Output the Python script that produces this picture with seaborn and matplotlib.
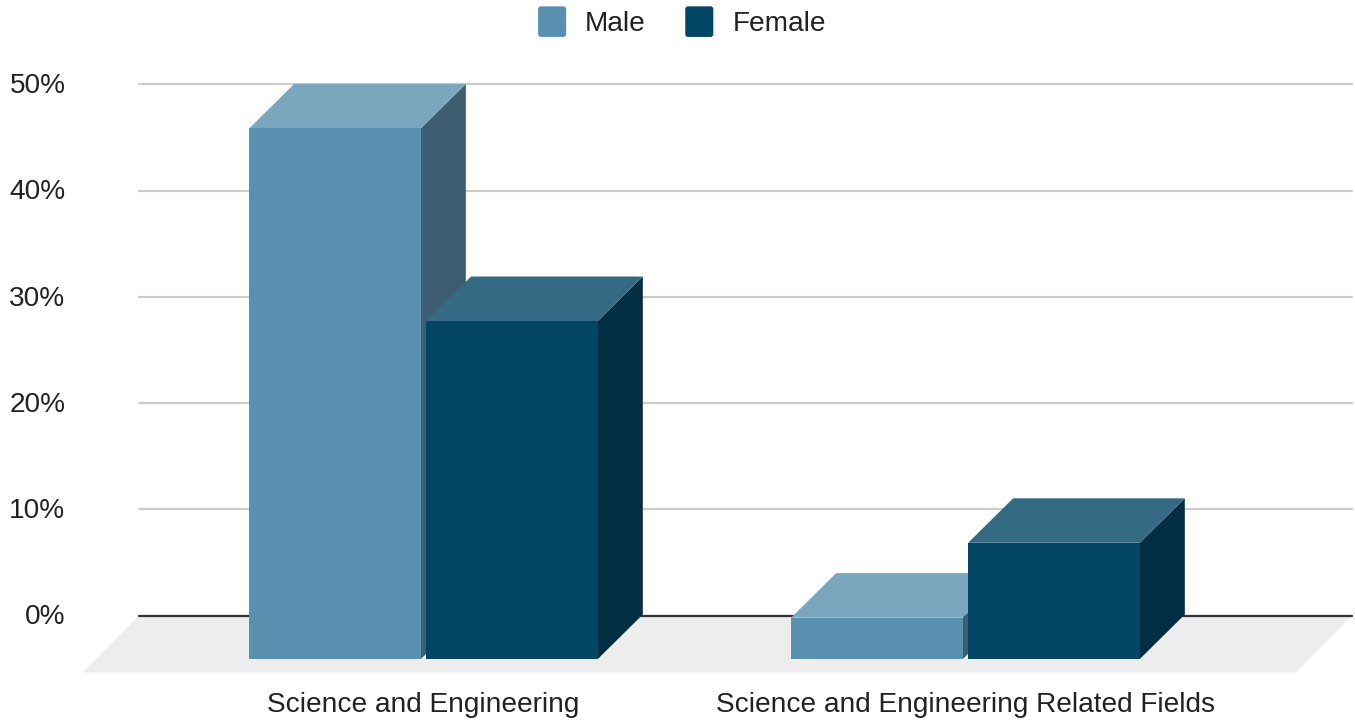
import matplotlib
matplotlib.use("Agg")
import matplotlib.pyplot as plt
import matplotlib.patches as mpatches
from matplotlib.legend_handler import HandlerPatch
from matplotlib.transforms import Affine2D
import pandas as pd
import seaborn as sns

# ---- data ----
categories = ["Science and Engineering", "Science and Engineering Related Fields"]
male_values = [50.0, 3.9]
female_values = [31.85, 10.95]
series_names = ["Male", "Female"]
y_ticks = [0, 10, 20, 30, 40, 50]
y_tick_labels = ["0%", "10%", "20%", "30%", "40%", "50%"]

# ---- style ----
FRONT = {"Male": "#5990AF", "Female": "#024564"}
TOP = {"Male": "#7AA7BE", "Female": "#346A83"}
SIDE = {"Male": "#3C5E70", "Female": "#012E42"}
W, H = 1355, 723
DX, DY = 45, 44.5  # bar depth in pixels
TEXT = "#222222"
FS = 20.2

sns.set_theme(style="white")
plt.rcParams["font.family"] = ["Liberation Sans", "DejaVu Sans"]

fig = plt.figure(figsize=(W / 100, H / 100), dpi=100, facecolor="white")


def px_axes(left, right, top, bottom):
    return fig.add_axes([left / W, 1 - bottom / H, (right - left) / W, (bottom - top) / H])


# Back wall: gridlines and value axis
back = px_axes(139, 1352, 84.5, 615.5)
back.set_ylim(0, 50)
back.set_xlim(0, 1)
back.set_xticks([])
back.set_yticks(y_ticks, y_tick_labels)
back.tick_params(axis="y", length=0, pad=53, labelsize=FS, labelcolor=TEXT)
for label in back.get_yticklabels():
    label.set_verticalalignment("center_baseline")
    label.set_transform(label.get_transform() + Affine2D().translate(0, 1.2))
back.grid(axis="y", color="#CCCCCC", lw=1.6, clip_on=False)
back.set_axisbelow(True)
sns.despine(ax=back, left=True, bottom=True)
back.axhline(0, color="#333333", lw=1.6, zorder=3, clip_on=False)
fx, fy = 56 / 1213, 57 / 531
back.add_patch(mpatches.Polygon(
    [(0, 0), (1, 0), (1 - fx, -fy), (-fx, -fy)], closed=True,
    transform=back.transAxes, facecolor="#EDEDED", edgecolor="none",
    clip_on=False, zorder=1))

# Front plane: the bars, shifted by the depth
front = px_axes(139 - DX, 1352 - DX, 84.4 + 44, 615 + 44)
front.patch.set_alpha(0)
df = pd.DataFrame({
    "category": categories * 2,
    "series": [series_names[0]] * 2 + [series_names[1]] * 2,
    "value": male_values + female_values,
})
sns.barplot(data=df, x="category", y="value", hue="series", order=categories,
            hue_order=series_names, palette=FRONT, width=0.653, gap=0.03,
            saturation=1, legend=False, ax=front, linewidth=0)
front.set_xlim((94 - 423.5) / 542, (1307 - 423.5) / 542)
front.set_ylim(0, 50)
front.set_xlabel("")
front.set_ylabel("")
front.set_yticks([])
front.tick_params(axis="x", length=0, pad=24, labelsize=FS, labelcolor=TEXT)
sns.despine(ax=front, left=True, bottom=True)

# Depth faces derived from each bar
for cont, name in zip(front.containers, series_names):
    for bar in cont:
        bar.set_zorder(7)
        bar.set_clip_on(False)
        x0, x1 = bar.get_x(), bar.get_x() + bar.get_width()
        h = bar.get_height()
        (a, b), (c, d) = front.transData.transform([(x0, 0), (x1, h)])
        top = [(a, d), (c, d), (c + DX, d + DY), (a + DX, d + DY)]
        side = [(c, b), (c + DX, b + DY), (c + DX, d + DY), (c, d)]
        for pts, col in ((side, SIDE[name]), (top, TOP[name])):
            fig.add_artist(mpatches.Polygon(
                pts, closed=True, transform=Affine2D(), facecolor=col,
                edgecolor="none", zorder=1))
back.set_zorder(0)
front.set_zorder(2)


class RoundHandler(HandlerPatch):
    def create_artists(self, legend, orig, xd, yd, width, height, fontsize, trans):
        p = mpatches.FancyBboxPatch((2 - xd, 2 - yd), width - 4, height - 4,
                                    boxstyle="round,pad=2,rounding_size=2",
                                    facecolor=orig.get_facecolor(), edgecolor="none",
                                    transform=trans)
        return [p]


handles = [mpatches.Patch(facecolor=FRONT[n], label=n) for n in series_names]
leg = fig.legend(handles=handles, loc="center", bbox_to_anchor=(682 / W, 1 - 21.7 / H),
                 ncols=2, frameon=False, fontsize=FS, labelcolor=TEXT,
                 handler_map={mpatches.Patch: RoundHandler()},
                 handlelength=1.0, handleheight=1.3, handletextpad=0.68, columnspacing=1.4)

fig.savefig("out.png", dpi=100, facecolor="white")
